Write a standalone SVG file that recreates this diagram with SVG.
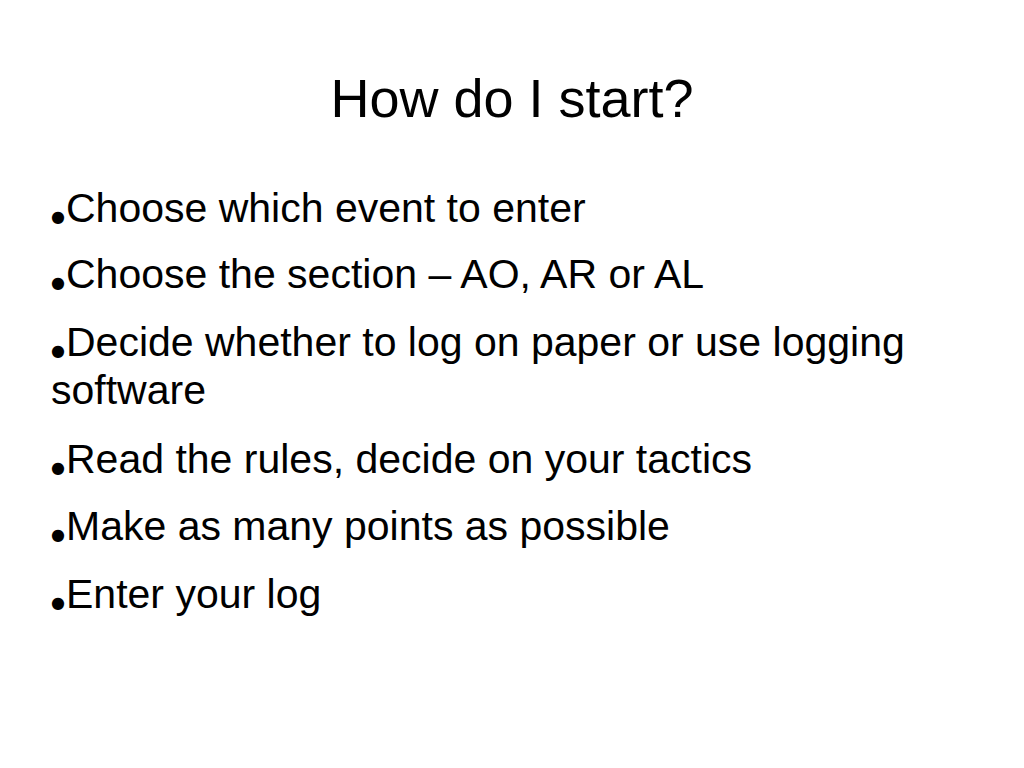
<svg xmlns="http://www.w3.org/2000/svg" width="1024" height="768" viewBox="0 0 1024 768">
<style>
.t{font-family:"Liberation Sans",Arial,sans-serif;fill:#000}
.b{font-size:41px}
.d{font-family:"DejaVu Sans",sans-serif;font-size:16px;fill:#000}
</style>
<rect width="1024" height="768" fill="#fff"/>
<text class="t" x="512" y="117" font-size="54" text-anchor="middle">How do I start?</text>
<g>
<text class="d" x="51" y="222">●</text><text class="t b" x="66" y="222">Choose which event to enter</text>
<text class="d" x="51" y="288">●</text><text class="t b" x="66" y="288">Choose the section – AO, AR or AL</text>
<text class="d" x="51" y="356">●</text><text class="t b" x="66" y="356">Decide whether to log on paper or use logging</text>
<text class="t b" x="51" y="404">software</text>
<text class="d" x="51" y="473">●</text><text class="t b" x="66" y="473">Read the rules, decide on your tactics</text>
<text class="d" x="51" y="540">●</text><text class="t b" x="66" y="540">Make as many points as possible</text>
<text class="d" x="51" y="608">●</text><text class="t b" x="66" y="608">Enter your log</text>
</g>
</svg>
